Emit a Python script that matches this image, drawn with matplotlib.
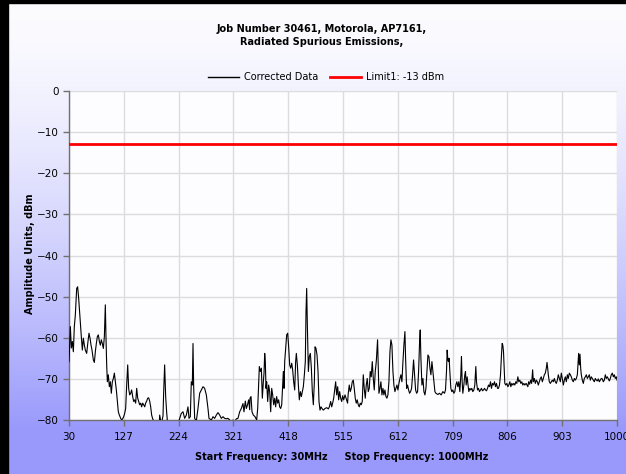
import numpy as np
import matplotlib
matplotlib.use("Agg")
import matplotlib.pyplot as plt
from matplotlib.patches import Rectangle
from matplotlib.lines import Line2D

plt.rcParams['font.family'] = ['DejaVu Sans']

title_lines = ["Job Number 30461, Motorola, AP7161,", "Radiated Spurious Emissions,"]
series_names = ["Corrected Data", "Limit1: -13 dBm"]
limit_dbm = -13
x_ticks = [30, 127, 224, 321, 418, 515, 612, 709, 806, 903, 1000]
y_ticks = [0, -10, -20, -30, -40, -50, -60, -70, -80]
x_label = "Start Frequency: 30MHz     Stop Frequency: 1000MHz"
y_label = "Amplitude Units, dBm"

freq_mhz = [
    30.0, 32.4, 34.1, 35.9, 37.7, 39.4, 41.2, 43.6, 45.3, 47.1, 48.3, 50.1, 51.8, 53.6, 55.4, 57.2,
    58.9, 61.3, 63.6, 65.4, 67.2, 69.0, 70.7, 73.1, 74.9, 76.6, 78.4, 80.2, 82.0, 83.7, 85.5, 87.2,
    89.0, 90.8, 92.6, 94.3, 95.5, 96.7, 97.9, 99.6, 101.4, 103.2, 104.9, 106.7, 108.5, 110.3, 112.0,
    113.8, 115.6, 117.3, 119.1, 121.5, 123.2, 125.0, 126.8, 128.5, 130.3, 132.1, 133.9, 135.6, 137.4,
    139.2, 140.9, 142.7, 144.5, 146.2, 148.0, 149.8, 151.6, 153.3, 155.1, 156.9, 158.6, 160.4, 162.2,
    164.0, 165.7, 167.5, 169.3, 171.0, 172.8, 174.6, 176.3, 178.1, 181.1, 184.0, 187.0, 189.9,
    190.5, 193.4, 196.4, 197.5, 199.3, 201.1, 202.8, 204.6, 211.1, 220.0, 224.1, 225.9, 228.8, 231.8,
    234.7, 237.7, 240.6, 242.4, 244.7, 246.5, 248.3, 249.5, 250.6, 252.4, 255.4, 258.3, 261.3, 264.2,
    267.2, 270.1, 273.1, 276.0, 277.8, 282.0, 284.9, 287.8, 290.8, 293.7, 296.7, 299.6, 302.6, 305.5,
    308.5, 311.4, 314.4, 317.3, 320.3, 323.2, 326.2, 329.1, 332.1, 335.0, 338.0, 339.7, 342.1, 343.9,
    345.6, 348.0, 349.8,
    350.4, 352.2, 353.9, 356.3, 359.3, 362.2, 364.0, 365.7, 366.9, 368.7, 370.5, 372.2, 374.0, 375.2,
    376.4, 377.5, 378.7, 379.9, 381.7, 383.4, 385.2, 387.0, 388.8, 390.5, 392.3, 394.1, 395.8, 397.6,
    399.4, 401.1, 402.9, 404.7, 406.5, 408.2, 409.4, 410.6, 411.8, 413.5, 415.3, 417.1, 418.8, 420.6,
    422.4, 424.2, 425.9, 427.7, 429.5, 431.2, 432.4, 434.2, 436.0, 437.7, 439.5, 441.3, 443.0, 444.8,
    446.6, 448.3, 449.5, 450.7, 451.9, 453.7, 455.4, 457.2, 459.0, 460.7, 462.5, 464.3, 465.5, 467.2,
    469.0, 470.8, 472.5, 474.3, 476.1, 477.8, 480.2, 483.2, 486.1, 489.1, 490.8, 493.2, 495.0, 496.7,
    498.5, 500.3, 502.0, 503.8, 505.6, 507.3, 509.1, 510.9, 512.7, 514.4, 516.2, 518.6,
    521.4, 523.1, 524.3, 526.1, 527.8, 529.6, 531.4, 533.2, 534.9, 536.7, 538.5, 540.2, 542.0, 543.8,
    545.5, 547.3, 549.1, 550.9, 552.6, 554.4, 556.2, 557.9, 559.7, 561.5, 563.2, 565.0, 566.8, 568.6,
    570.3, 572.1, 573.9, 575.0, 576.2, 577.4, 578.6, 580.4, 582.1, 583.9, 585.7, 587.4, 589.2, 591.0,
    592.7, 594.5, 596.3, 598.1, 599.8, 601.6, 603.4, 605.1, 606.9, 608.7, 610.4, 612.2, 614.0, 615.8,
    617.5, 619.3, 621.1, 622.8, 624.6, 625.8, 627.6, 629.3, 631.1, 632.9, 634.6, 636.4, 638.2, 639.9,
    641.7, 643.5, 645.3, 647.0, 648.8, 650.6, 651.7, 652.9, 654.7, 656.5, 658.2, 660.0, 661.8, 663.5,
    665.3, 667.1, 668.9, 670.6, 672.4, 674.2, 675.9, 677.7, 679.5,
    682.9, 685.8, 688.8, 691.7, 694.7, 696.4, 698.2, 699.4, 700.6, 701.7, 702.9, 704.1, 705.9, 707.6,
    709.4, 711.2, 712.9, 714.7, 716.5, 718.3, 720.0, 721.8, 723.6, 724.7, 725.9, 727.1, 728.9, 730.6,
    731.8, 733.0, 734.8, 736.0, 737.7, 739.5, 741.3, 743.0, 744.8, 746.6, 748.3, 750.1, 751.3, 753.1,
    754.8, 756.6, 758.4, 760.1, 761.9, 763.7, 765.5, 767.2, 769.0, 770.8, 772.5, 774.3, 776.1, 777.8,
    779.6, 781.4, 783.2, 784.9, 786.7, 788.5, 790.2, 792.0, 793.8, 795.5, 796.7, 797.9, 799.1, 800.3,
    801.4, 803.2, 805.0, 806.8, 808.5, 810.3, 812.1, 813.8, 815.6, 817.4, 819.1, 820.9, 822.7, 824.5,
    826.2, 828.0, 829.8, 831.5, 833.3, 835.1, 836.8, 839.2, 842.2,
    843.6, 845.4, 847.2, 848.9, 850.7, 851.9, 853.7, 855.4, 857.2, 859.0, 860.7, 862.5, 864.3, 866.0,
    867.8, 869.6, 871.4, 873.1, 874.9, 876.1, 877.3, 878.4, 880.2, 882.0, 883.7, 885.5, 887.3, 889.1,
    890.8, 892.6, 894.4, 896.1, 897.9, 899.7, 901.4, 903.2, 905.0, 906.8, 908.5, 910.3, 912.1, 913.8,
    915.6, 917.4, 919.1, 920.9, 922.7, 924.5, 926.2, 928.0, 929.8, 930.9, 932.1, 933.3, 934.5, 935.7,
    936.8, 938.6, 940.4, 942.1, 943.9, 945.7, 947.5, 949.2, 951.0, 952.8, 954.5, 956.3, 958.1, 959.9,
    961.6, 963.4, 965.2, 966.9, 968.7, 970.5, 972.2, 974.0, 975.8, 977.6, 979.3, 981.1, 982.9, 984.6,
    986.4, 988.2, 989.9, 991.7, 993.5, 995.3, 997.0, 998.8, 1000.0,
]

level_dbm = [
    -65.8, -57.3, -62.5, -60.9, -63.4, -57.3, -54.5, -48.0, -47.6, -50.4, -52.8, -56.1, -59.7, -63.0, -60.1, -61.8,
    -63.0, -63.8, -60.9, -58.9, -60.1, -61.8, -63.0, -65.4, -66.0, -63.4, -61.4, -59.7, -59.3, -60.9, -61.8, -60.5,
    -61.4, -62.6, -59.7, -52.0, -60.1, -66.6, -70.7, -69.0, -71.9, -70.7, -73.5, -70.7, -69.9, -68.6, -70.7,
    -72.7, -75.5, -78.0, -78.8, -79.6, -80.0, -79.7, -79.2, -78.4, -77.2, -71.5, -66.6, -72.3, -73.9,
    -73.5, -72.7, -74.3, -75.5, -75.1, -75.9, -72.3, -74.7, -75.5, -76.3, -75.9, -76.8, -75.9, -76.3,
    -76.8, -75.9, -75.4, -74.7, -74.6, -75.4, -76.8, -78.8, -79.7, -80.5, -81.0, -80.5, -81.0,
    -78.8, -81.0, -79.0, -73.5, -66.6, -74.3, -78.0, -81.0, -81.0, -81.0, -80.5, -79.6, -78.4, -78.0,
    -79.6, -78.8, -76.8, -79.6, -79.2, -70.7, -71.5, -61.4, -71.5, -79.6, -80.2, -77.2, -73.5, -72.7,
    -71.9, -72.3, -73.9, -77.2, -79.6, -80.0, -79.2, -79.6, -78.8, -78.2, -78.8, -79.6, -79.2, -79.6,
    -79.7, -79.6, -80.0, -80.5, -80.0, -80.5, -79.7, -79.6, -78.0, -77.2, -76.0, -78.0, -75.4, -77.2,
    -76.5, -75.1, -77.5,
    -74.7, -74.3, -78.0, -78.8, -79.2, -80.0, -77.2, -71.5, -67.0, -68.2, -67.4, -74.7, -70.7, -68.6,
    -63.8, -65.8, -72.3, -70.7, -75.5, -71.5, -73.1, -78.0, -72.3, -73.9, -76.3, -74.7, -76.8, -74.3,
    -75.9, -75.1, -76.8, -77.2, -76.3, -71.5, -68.2, -72.3, -65.8, -62.6, -59.3, -58.9, -62.2, -66.6,
    -67.4, -66.2, -67.8, -70.7, -72.7, -65.8, -63.8, -66.6, -71.5, -75.1, -73.1, -74.3, -73.1, -71.9,
    -69.0, -65.8, -53.7, -48.0, -56.9, -68.2, -64.6, -63.8, -67.4, -73.1, -76.3, -70.7, -62.2, -62.6,
    -64.2, -68.2, -75.5, -77.6, -76.8, -77.2, -77.6, -77.2, -77.0, -77.3, -76.8, -75.5, -76.8, -75.9,
    -74.7, -72.7, -70.7, -73.9, -71.9, -75.1, -73.1, -74.7, -75.5, -74.1, -75.1, -73.9,
    -75.1, -75.9, -73.5, -71.5, -73.1, -72.3, -70.7, -70.3, -72.3, -74.7, -75.9, -75.1, -76.3, -76.8,
    -75.9, -76.3, -75.5, -69.0, -72.3, -74.7, -71.5, -69.9, -73.1, -72.3, -68.2, -69.5, -65.8, -69.9,
    -72.7, -68.2, -65.8, -63.4, -60.5, -67.4, -73.5, -72.3, -70.7, -73.9, -72.3, -73.9, -72.7, -74.3,
    -74.7, -73.9, -70.7, -63.4, -60.5, -61.8, -68.2, -71.5, -73.1, -72.3, -71.5, -72.7, -71.1, -69.9,
    -69.0, -70.7, -65.8, -61.8, -58.5, -65.0, -72.3, -71.5, -72.7, -73.5, -73.1, -72.3, -69.0, -65.4,
    -69.0, -72.7, -73.5, -73.1, -68.2, -60.9, -58.1, -65.0, -71.5, -69.9, -73.1, -73.9, -72.3, -68.2,
    -64.2, -64.6, -67.4, -69.0, -65.8, -68.2, -70.7, -73.1, -73.5,
    -73.8, -73.5, -73.9, -73.1, -73.5, -72.7, -68.2, -63.0, -65.4, -65.8, -65.0, -68.2, -72.3, -73.1,
    -72.7, -73.5, -73.1, -71.5, -70.7, -71.9, -70.7, -73.1, -69.0, -64.6, -70.7, -73.5, -71.5, -69.0,
    -68.2, -71.5, -69.5, -71.1, -73.1, -72.3, -72.7, -72.3, -73.1, -72.7, -71.5, -67.0, -70.7, -72.7,
    -72.3, -73.1, -72.7, -72.3, -72.9, -72.7, -72.3, -72.7, -72.9, -72.3, -71.5, -71.9, -70.7, -72.3,
    -71.1, -71.5, -70.7, -71.9, -71.1, -72.3, -72.3, -71.5, -69.0, -64.2, -61.4, -61.8, -63.4, -67.4,
    -71.1, -71.5, -71.1, -71.9, -71.5, -70.7, -71.9, -71.1, -71.5, -71.1, -71.5, -70.7, -71.1, -69.5,
    -70.7, -70.3, -71.1, -70.7, -71.5, -71.1, -71.5, -71.1, -71.9,
    -70.7, -71.3, -70.3, -71.1, -67.8, -70.7, -69.9, -71.1, -70.3, -70.7, -71.5, -70.7, -69.9, -69.5,
    -70.7, -69.9, -69.0, -68.6, -67.4, -66.0, -67.4, -69.0, -70.7, -71.1, -70.7, -70.3, -70.7, -69.9,
    -70.7, -71.1, -70.3, -69.0, -69.9, -70.7, -68.6, -69.9, -71.5, -70.3, -69.5, -70.7, -69.0, -69.9,
    -68.6, -69.0, -69.5, -70.3, -70.7, -69.9, -70.3, -69.9, -69.0, -66.6, -63.8, -66.6, -64.0, -67.4,
    -69.0, -70.3, -71.1, -69.9, -69.5, -69.0, -69.9, -69.5, -69.0, -70.3, -69.5, -69.9, -70.3, -70.7,
    -69.9, -70.3, -70.5, -70.0, -70.7, -70.3, -69.9, -70.0, -70.7, -70.3, -69.0, -69.9, -69.5, -70.0,
    -70.5, -69.9, -69.0, -68.6, -69.5, -69.0, -69.9, -69.5, -70.3,
]

W, H = 626, 474
fig = plt.figure(figsize=(W / 100, H / 100), dpi=100)

# gradient background
bg = fig.add_axes([0, 0, 1, 1], zorder=-10)
yy = np.linspace(0, 1, 400)
t = np.clip(yy / (430 / 474), 0, 1) ** 1.5
top = np.array([252, 252, 255]) / 255
bot = np.array([153, 153, 252]) / 255
grad = (top[None, :] * (1 - t[:, None]) + bot[None, :] * t[:, None])[:, None, :]
bg.imshow(grad, aspect='auto', extent=[0, 1, 0, 1], origin='upper')
bg.set_xlim(0, 1); bg.set_ylim(0, 1)
bg.axis('off')

# black frame edges
fig.patches.append(Rectangle((0, 0), 8 / W, 1, transform=fig.transFigure, color='black', zorder=5))
fig.patches.append(Rectangle((0, 1 - 3 / H), 1, 3 / H, transform=fig.transFigure, color='black', zorder=5))

ax = fig.add_axes([69 / W, 54 / H, 548 / W, 329 / H])
ax.set_facecolor('#fdfdff')
ax.plot(freq_mhz, level_dbm, color='black', lw=0.8, zorder=3)
ax.axhline(limit_dbm, color='#ff0000', lw=2, zorder=4)
ax.set_xlim(30, 1000)
ax.set_ylim(-80, 0)
ax.set_xticks(x_ticks)
ax.set_yticks(y_ticks)
ax.grid(True, color='#dcdcdc', lw=1)
ax.set_axisbelow(True)
for s in ['top', 'right']:
    ax.spines[s].set_visible(False)
for s in ['left', 'bottom']:
    ax.spines[s].set_color('#707070')
    ax.spines[s].set_linewidth(1)
ax.tick_params(axis='both', colors='#707070', labelcolor='black', labelsize=7.5, length=4, width=1)
ax.tick_params(axis='x', pad=5)

fig.text(322 / W, 1 - 29 / H, title_lines[0], ha='center', va='center', fontsize=7, fontweight='bold')
fig.text(322 / W, 1 - 42 / H, title_lines[1], ha='center', va='center', fontsize=7, fontweight='bold')
fig.text(342 / W, 1 - 457 / H, x_label, ha='center', va='center', fontsize=7, fontweight='bold')
fig.text(30 / W, 1 - 254 / H, y_label, ha='center', va='center', rotation=90, fontsize=7, fontweight='bold')

handles = [Line2D([], [], color='black', lw=1), Line2D([], [], color='#ff0000', lw=2)]
fig.legend(handles, series_names, loc='center', bbox_to_anchor=(326 / W, 1 - 77 / H), ncol=2,
           frameon=False, fontsize=7, handlelength=3.2, columnspacing=1.2, handletextpad=0.5)

fig.savefig('out.png', dpi=100)
